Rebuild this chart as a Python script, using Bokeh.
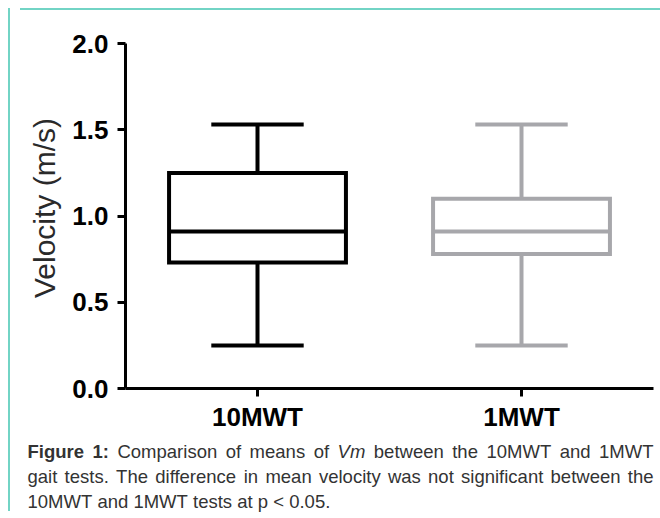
from math import pi
from bokeh.plotting import figure
from bokeh.models import Range1d, FixedTicker, Div, Spacer, ColumnDataSource
from bokeh.layouts import column, row
from bokeh.core.properties import value
from bokeh.embed import file_html
from bokeh.resources import INLINE

# ---------------- data ----------------
categories = ["10MWT", "1MWT"]
positions = [0.5, 1.5]
whisker_low = [0.25, 0.25]
q1 = [0.73, 0.78]
median = [0.91, 0.91]
q3 = [1.25, 1.10]
whisker_high = [1.53, 1.53]
colors = ["#000000", "#a7a7ab"]
y_ticks = [0.0, 0.5, 1.0, 1.5, 2.0]
y_tick_labels = ["0.0", "0.5", "1.0", "1.5", "2.0"]
y_label = "Velocity (m/s)"
caption_line1 = [("Figure", "bold"), ("1:", "bold"), ("Comparison", "normal"), ("of", "normal"),
                 ("means", "normal"), ("of", "normal"), ("Vm", "italic"), ("between", "normal"),
                 ("the", "normal"), ("10MWT", "normal"), ("and", "normal"), ("1MWT", "normal")]
caption_line2 = "gait tests. The difference in mean velocity was not significant between the"
caption_line3 = "10MWT and 1MWT tests at p < 0.05."

# ---------------- layout constants (page px) ----------------
FONT = "Liberation Sans"
TEAL = "#72d4c5"
ORIGIN = 13                       # nominal content start
OFFX, OFFY = 2, 2                 # observed extra offset of the content
X0, Y0 = ORIGIN + OFFX, ORIGIN + OFFY
LW_ = 48                          # width of the y-title figure
PW, PH = 645 - LW_, 419           # chart figure size
FL, FR, FT, FB = 125, 653, 43, 388  # frame edges in page px
CW, CH = 645, 82                  # caption figure size
CAP_GAP = 8                       # observed shift of caption text
BOX_HALF = 0.335
CAP_HALF = 0.175

PX0 = X0 + LW_                    # page x of chart figure left edge
p = figure(width=PW, height=PH, output_backend="svg", toolbar_location=None,
           x_range=Range1d(0, 2), y_range=Range1d(0, 2),
           min_border_left=FL - PX0, min_border_right=PX0 + PW - FR,
           min_border_top=FT - Y0, min_border_bottom=Y0 + PH - FB)
p.outline_line_color = None
p.grid.visible = False
p.background_fill_color = "white"
p.border_fill_color = "white"

xax = p.xaxis[0]
yax = p.yaxis[0]
xax.ticker = FixedTicker(ticks=positions)
xax.major_label_overrides = {pos: c for pos, c in zip(positions, categories)}
yax.ticker = FixedTicker(ticks=y_ticks)
yax.major_label_overrides = {t: l for t, l in zip(y_ticks, y_tick_labels)}
for ax in (xax, yax):
    ax.axis_line_width = 3
    ax.axis_line_color = "black"
    ax.major_tick_line_width = 3
    ax.major_tick_line_color = "black"
    ax.major_tick_out = 8
    ax.major_tick_in = 0
    ax.minor_tick_line_color = None
    ax.major_label_text_font = FONT
    ax.major_label_text_font_style = "bold"
    ax.major_label_text_font_size = "26px"
    ax.major_label_text_color = "black"
xax.major_label_standoff = 5
yax.major_label_standoff = 9

# ---------------- box plots ----------------
left = [x - BOX_HALF for x in positions]
right = [x + BOX_HALF for x in positions]
cap_l = [x - CAP_HALF for x in positions]
cap_r = [x + CAP_HALF for x in positions]
lw = 4
p.quad(left=left, right=right, bottom=q1, top=q3, fill_color=None,
       line_color=colors, line_width=lw, line_join="miter")
p.segment(x0=left, x1=right, y0=median, y1=median, line_color=colors, line_width=lw)
p.segment(x0=positions, x1=positions, y0=q3, y1=whisker_high, line_color=colors, line_width=lw)
p.segment(x0=positions, x1=positions, y0=q1, y1=whisker_low, line_color=colors, line_width=lw)
p.segment(x0=cap_l, x1=cap_r, y0=whisker_high, y1=whisker_high, line_color=colors, line_width=lw)
p.segment(x0=cap_l, x1=cap_r, y0=whisker_low, y1=whisker_low, line_color=colors, line_width=lw)

# ---------------- y-axis title (own narrow figure, page-px coordinates) ----------------
t = figure(width=LW_, height=PH, output_backend="svg", toolbar_location=None,
           x_range=Range1d(X0, X0 + LW_), y_range=Range1d(Y0 + PH, Y0),
           min_border=0, x_axis_location=None, y_axis_location=None)
t.outline_line_color = None
t.grid.visible = False
t.text(x=[44], y=[207.5], text=[y_label], angle=pi / 2, text_align="center",
       text_baseline="middle", text_font=value(FONT), text_font_size="30px",
       text_color="#2a2a2a")

# ---------------- caption figure (justified text, Arial/Helvetica metrics) ----------------
CAP_TOP = Y0 + PH + CAP_GAP
c = figure(width=CW, height=CH, output_backend="svg", toolbar_location=None,
           x_range=Range1d(X0, X0 + CW), y_range=Range1d(CAP_TOP + CH, CAP_TOP),
           min_border=0, x_axis_location=None, y_axis_location=None)
c.outline_line_color = None
c.grid.visible = False
c.background_fill_color = "white"
c.border_fill_color = "white"

for fig in (p, c, t):
    try:
        fig.frame_align = False
    except Exception:
        pass

REG = {' ': 278, 'a': 556, 'b': 556, 'c': 500, 'd': 556, 'e': 556, 'f': 278, 'g': 556, 'h': 556,
       'i': 222, 'j': 222, 'k': 500, 'l': 222, 'm': 833, 'n': 556, 'o': 556, 'p': 556, 'q': 556,
       'r': 333, 's': 500, 't': 278, 'u': 556, 'v': 500, 'w': 722, 'x': 500, 'y': 500, 'z': 500,
       'C': 722, 'F': 611, 'M': 833, 'T': 611, 'V': 667, 'W': 944, '.': 278, ':': 278, '<': 584}
BOLD = {' ': 278, 'F': 611, 'i': 278, 'g': 611, 'u': 611, 'r': 389, 'e': 556, ':': 333}
CAP_SIZE = 18.5
CAP_COLOR = "#333333"
CAP_L, CAP_R = 27, 653
BASELINES = [459, 484, 509]

def width(word, style):
    table = BOLD if style == "bold" else REG
    return sum(table.get(ch, 556) for ch in word) * CAP_SIZE / 1000.0

words = {"normal": ([], [], []), "bold": ([], [], []), "italic": ([], [], [])}

def place(line, baseline, justify):
    widths = [width(w, s) for w, s in line]
    if justify:
        gap = (CAP_R - CAP_L - sum(widths)) / (len(line) - 1)
    else:
        gap = REG[' '] * CAP_SIZE / 1000.0
    x = CAP_L
    for (w, s), wd in zip(line, widths):
        words[s][0].append(x)
        words[s][1].append(baseline)
        words[s][2].append(w)
        x += wd + gap

place(caption_line1, BASELINES[0], True)
place([(w, "normal") for w in caption_line2.split(" ")], BASELINES[1], True)
place([(w, "normal") for w in caption_line3.split(" ")], BASELINES[2], False)

for style, (xs, ys, ts) in words.items():
    src = ColumnDataSource(dict(x=xs, y=ys, text=ts))
    c.text(x="x", y="y", text="text", source=src, text_align="left", text_baseline="alphabetic",
           text_font=value(FONT), text_font_size=f"{CAP_SIZE}px", text_font_style=style,
           text_color=CAP_COLOR)

# ---------------- teal frame around the figure ----------------
top_strip = Div(width=645, height=2, styles={"background-color": TEAL})
left_strip = Div(width=2, height=2 + PH + CH, styles={"background-color": TEAL})
layout = column(Spacer(height=3),
                row(Spacer(width=3), left_strip, column(top_strip, row(t, p), c)))

open("out.html", "w").write(file_html(layout, INLINE))
